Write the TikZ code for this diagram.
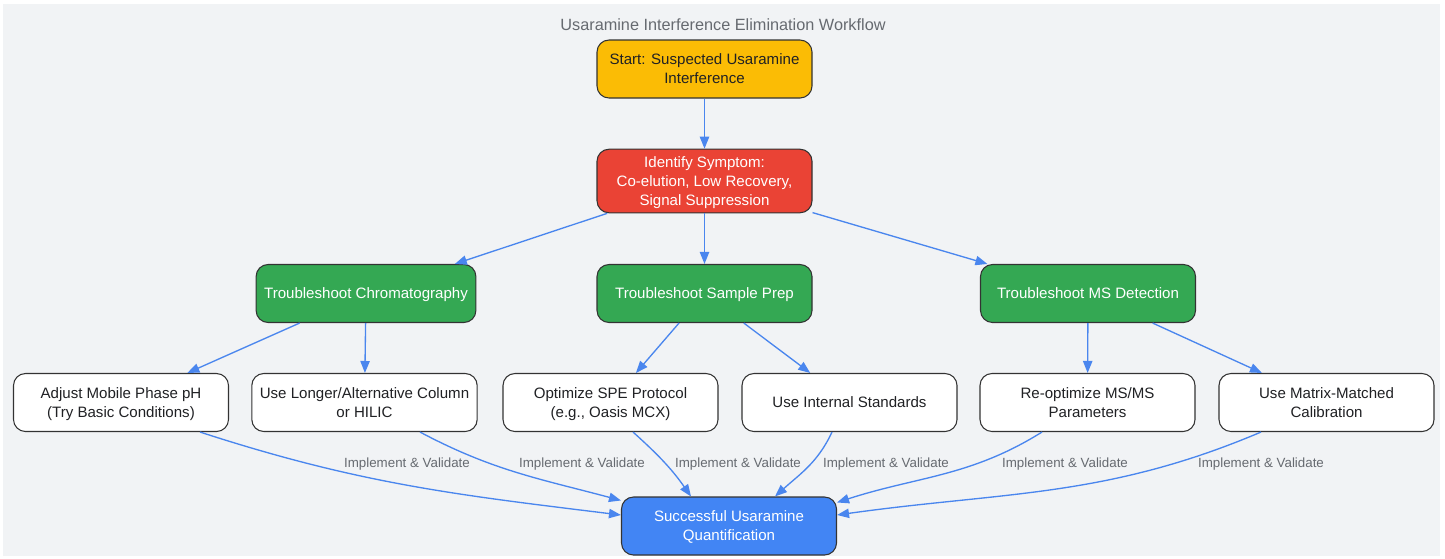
\documentclass[tikz,border=0pt]{standalone}
\usepackage{fontspec}
\setmainfont{Liberation Sans}
\usepackage{xcolor}
\usepackage{tikz}
\usetikzlibrary{arrows.meta, positioning, calc}

\definecolor{panelgray}{HTML}{F1F3F5}
\definecolor{startyellow}{HTML}{FBBC05}
\definecolor{symptomred}{HTML}{EA4335}
\definecolor{fixgreen}{HTML}{34A853}
\definecolor{doneblue}{HTML}{4285F4}
\definecolor{flowblue}{HTML}{4A86EE}
\definecolor{labelgray}{HTML}{666A70}
\definecolor{edgegray}{HTML}{333333}
\definecolor{inkdark}{HTML}{202124}

\begin{document}
\begin{tikzpicture}[x=0.75pt,y=0.75pt,>={Triangle[length=9pt,width=7pt]},
  main node/.style={rectangle,rounded corners=9pt,draw=edgegray,line width=0.8pt,
    minimum width=161.25pt,minimum height=43.5pt,inner xsep=6pt,inner ysep=5.5pt,
    text depth=0pt,align=center,text=inkdark,font=\fontsize{11.3}{14.25}\selectfont},
  step node/.style={main node,fill=white},
  fix node/.style={main node,fill=fixgreen,text=white},
  flow/.style={->,draw=flowblue,line width=1pt},
  lbl/.style={font=\fontsize{10}{12}\selectfont,text=labelgray}]

  % canvas and panel
  \path[use as bounding box] (0,0) rectangle (1445,-558);
  \fill[panelgray] (3,-4) rectangle (1440,-556);
  \node[font=\fontsize{12.2}{15}\selectfont,text=labelgray] (title) at (723,-25)
    {Usaramine Interference Elimination Workflow};

  \node[main node,fill=startyellow] (start) at (704.5,-69)
    {Start: Suspected Usaramine\\Interference};
  \node[main node,fill=symptomred,text=white] (symptom) at (704.5,-181)
    {Identify Symptom:\\Co-elution, Low Recovery,\\Signal Suppression};

  \node[fix node] (chrom) at (366,-293.5) {Troubleshoot Chromatography};
  \node[fix node] (prep) at (704.5,-293.5) {Troubleshoot Sample Prep};
  \node[fix node] (ms) at (1088,-293.5) {Troubleshoot MS Detection};

  \node[step node] (ph) at (121,-402.5) {Adjust Mobile Phase pH\\(Try Basic Conditions)};
  \node[step node] (column) at (364.5,-402.5) {Use Longer/Alternative Column\\or HILIC};
  \node[step node] (spe) at (610.5,-402.5) {Optimize SPE Protocol\\(e.g., Oasis MCX)};
  \node[step node] (istd) at (849.5,-402.5) {Use Internal Standards};
  \node[step node] (msms) at (1087.5,-402.5) {Re-optimize MS/MS\\Parameters};
  \node[step node] (matrix) at (1326.5,-402.5) {Use Matrix-Matched\\Calibration};

  \node[main node,fill=doneblue,text=white] (done) at (729,-526)
    {Successful Usaramine\\Quantification};

  \path[every edge/.style={flow}]
    (start) edge (symptom)
    (symptom) edge (chrom)
    (symptom) edge (prep)
    (symptom) edge (ms)
    (chrom) edge (ph)
    (chrom) edge (column)
    (prep) edge (spe)
    (prep) edge (istd)
    (ms) edge (msms)
    (ms) edge (matrix);

  \path[every edge/.style={flow}]
    ($(ph.south)+(79,0)$) edge[out=-18,in=173] ($(done.west)+(0,11)$)
    ($(column.south)+(55.5,0)$) edge[out=-28,in=165] ($(done.north west)+(0,-4)$)
    ($(spe.south)+(22.5,0)$) edge[out=-42,in=125] ($(done.north)+(-38,0)$)
    ($(istd.south)+(-17.5,0)$) edge[out=-115,in=42] ($(done.north)+(46,0)$)
    ($(msms.south)+(-45.5,0)$) edge[out=-148,in=18] ($(done.north east)+(0,-6)$)
    ($(matrix.south)+(-65.5,0)$) edge[out=-157,in=8] ($(done.east)+(0,11)$);

  \node[lbl] (v1) at (407,-464) {Implement \& Validate};
  \node[lbl] (v2) at (582,-464) {Implement \& Validate};
  \node[lbl] (v3) at (738,-464) {Implement \& Validate};
  \node[lbl] (v4) at (886,-464) {Implement \& Validate};
  \node[lbl] (v5) at (1065,-464) {Implement \& Validate};
  \node[lbl] (v6) at (1261,-464) {Implement \& Validate};
\end{tikzpicture}
\end{document}
